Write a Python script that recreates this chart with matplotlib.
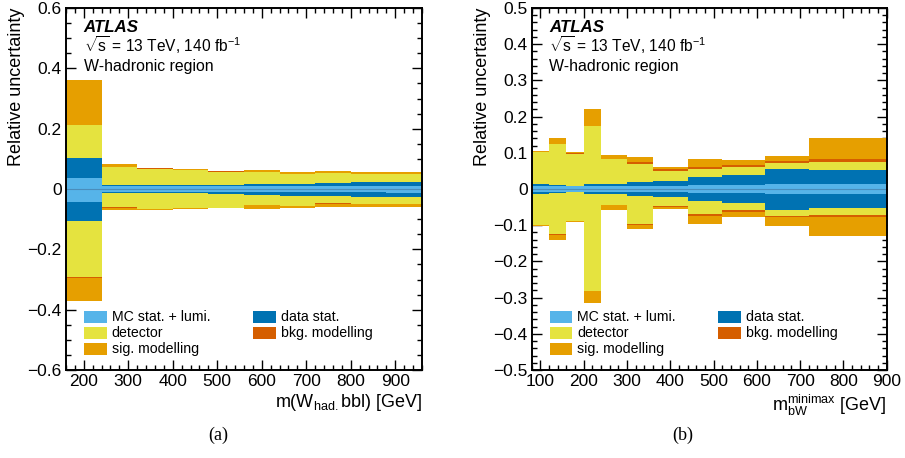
import numpy as np
import matplotlib
matplotlib.use("Agg")
import matplotlib.pyplot as plt
from matplotlib.patches import Rectangle
from matplotlib.ticker import MultipleLocator

plt.rcParams['font.family'] = ['Liberation Sans', 'DejaVu Sans']
plt.rcParams['mathtext.fontset'] = 'custom'
plt.rcParams['mathtext.rm'] = 'Liberation Sans'
plt.rcParams['mathtext.it'] = 'Liberation Sans:italic'
plt.rcParams['axes.unicode_minus'] = True

# colours
c_mc = '#56b4e9'
c_data = '#0072b2'
c_det = '#e5e33f'
c_bkg = '#d55e00'
c_sig = '#e69f00'

# (a) m(W_had. bbl)
edges_a = [160, 240, 320, 400, 480, 560, 640, 720, 800, 880, 960]
mc_up_a = [0.038, 0.010, 0.009, 0.009, 0.009, 0.009, 0.010, 0.010, 0.011, 0.011]
mc_dn_a = [-0.042, -0.011, -0.010, -0.010, -0.010, -0.010, -0.010, -0.011, -0.011, -0.012]
data_up_a = [0.104, 0.012, 0.012, 0.013, 0.014, 0.016, 0.018, 0.021, 0.022, 0.023]
data_dn_a = [-0.107, -0.013, -0.013, -0.014, -0.016, -0.019, -0.022, -0.024, -0.027, -0.026]
det_up_a = [0.211, 0.074, 0.068, 0.064, 0.058, 0.056, 0.050, 0.054, 0.050, 0.050]
det_dn_a = [-0.293, -0.061, -0.066, -0.063, -0.062, -0.053, -0.057, -0.048, -0.050, -0.050]
bkg_up_a = [0.2115, 0.0745, 0.0685, 0.0645, 0.0585, 0.0565, 0.0505, 0.0545, 0.0505, 0.0505]
bkg_dn_a = [-0.2935, -0.0615, -0.0665, -0.0635, -0.0625, -0.0535, -0.0575, -0.0485, -0.0505, -0.0505]
sig_up_a = [0.360, 0.082, 0.070, 0.067, 0.060, 0.063, 0.056, 0.061, 0.057, 0.056]
sig_dn_a = [-0.370, -0.070, -0.069, -0.065, -0.064, -0.067, -0.063, -0.059, -0.059, -0.059]

# (b) m_bW^minimax
edges_b = [80, 120, 160, 200, 240, 300, 360, 440, 520, 620, 720, 900]
mc_up_b = [0.009, 0.009, 0.008, 0.008, 0.009, 0.009, 0.009, 0.010, 0.012, 0.015, 0.015]
mc_dn_b = [-0.009, -0.009, -0.008, -0.008, -0.009, -0.009, -0.009, -0.010, -0.012, -0.015, -0.015]
data_up_b = [0.013, 0.011, 0.009, 0.013, 0.014, 0.020, 0.023, 0.032, 0.039, 0.056, 0.053]
data_dn_b = [-0.013, -0.011, -0.009, -0.013, -0.014, -0.020, -0.023, -0.032, -0.039, -0.057, -0.053]
det_up_b = [0.101, 0.123, 0.098, 0.173, 0.083, 0.070, 0.049, 0.055, 0.061, 0.072, 0.076]
det_dn_b = [-0.099, -0.125, -0.088, -0.281, -0.044, -0.096, -0.046, -0.069, -0.057, -0.074, -0.071]
bkg_up_b = [0.102, 0.124, 0.099, 0.174, 0.084, 0.075, 0.055, 0.062, 0.066, 0.077, 0.082]
bkg_dn_b = [-0.100, -0.126, -0.089, -0.282, -0.045, -0.100, -0.051, -0.074, -0.063, -0.078, -0.076]
sig_up_b = [0.106, 0.142, 0.101, 0.222, 0.094, 0.089, 0.061, 0.083, 0.080, 0.092, 0.141]
sig_dn_b = [-0.103, -0.140, -0.092, -0.314, -0.059, -0.110, -0.055, -0.098, -0.078, -0.101, -0.131]

legend_labels = ['MC stat. + lumi.', 'data stat.', 'detector', 'bkg. modelling', 'sig. modelling']


def band(ax, edges, lo, hi, color):
    # step band over the bins, last value repeated for the right edge
    ax.fill_between(edges, list(lo) + [lo[-1]], list(hi) + [hi[-1]],
                    step='post', color=color, lw=0, zorder=2)


def style(ax, xlim, ylim, ymaj, ymin):
    ax.set_xlim(*xlim)
    ax.set_ylim(*ylim)
    ax.xaxis.set_major_locator(MultipleLocator(100))
    ax.xaxis.set_minor_locator(MultipleLocator(20))
    ax.yaxis.set_major_locator(MultipleLocator(ymaj))
    ax.yaxis.set_minor_locator(MultipleLocator(ymin))
    ax.tick_params(which='both', direction='in', top=True, right=True,
                   labelsize=12.5, width=1.0, pad=3)
    ax.tick_params(which='major', length=7.5)
    ax.tick_params(which='minor', length=3.8)
    for s in ax.spines.values():
        s.set_linewidth(1.4)
        s.set_zorder(5)
    ax.set_ylabel('Relative uncertainty', fontsize=13, loc='top')
    ax.yaxis.set_label_coords(-0.116, 1.0)


def legend(ax):
    cols = [c_mc, c_data, c_det, c_bkg, c_sig]
    pos = [(0, 0), (1, 0), (0, 1), (1, 1), (0, 2)]
    for lab, c, (ci, ri) in zip(legend_labels, cols, pos):
        xp = 0.0506 if ci == 0 else 0.526
        yc = 0.1472 - ri * 0.0442
        ax.add_patch(Rectangle((xp, yc - 0.0166), 0.0637, 0.0332, transform=ax.transAxes,
                               color=c, lw=0, zorder=6))
        ax.text(xp + 0.078, yc, lab, transform=ax.transAxes, fontsize=10.2,
                va='center', ha='left', zorder=6)


def labels(ax):
    ax.text(0.05, 0.9345, 'ATLAS', transform=ax.transAxes, fontsize=12.2,
            fontweight='bold', style='italic', va='baseline')
    ax.text(0.05, 0.879, r'$\sqrt{\mathrm{s}}$ = 13 TeV, 140 fb$^{\mathrm{-1}}$',
            transform=ax.transAxes, fontsize=11.2, va='baseline')
    ax.text(0.05, 0.826, 'W-hadronic region', transform=ax.transAxes,
            fontsize=11.4, va='baseline')


fig = plt.figure(figsize=(9.05, 4.58), dpi=100)
ax1 = fig.add_axes([0.0729, 0.1921, 0.3934, 0.7904])
ax2 = fig.add_axes([0.5875, 0.1921, 0.3923, 0.7904])

for ax, e, mu, md, du, dd, tu, td, bu, bd, su, sd in [
        (ax1, edges_a, mc_up_a, mc_dn_a, data_up_a, data_dn_a, det_up_a, det_dn_a,
         bkg_up_a, bkg_dn_a, sig_up_a, sig_dn_a),
        (ax2, edges_b, mc_up_b, mc_dn_b, data_up_b, data_dn_b, det_up_b, det_dn_b,
         bkg_up_b, bkg_dn_b, sig_up_b, sig_dn_b)]:
    band(ax, e, sd, su, c_sig)
    band(ax, e, bd, bu, c_bkg)
    band(ax, e, td, tu, c_det)
    band(ax, e, dd, du, c_data)
    band(ax, e, md, mu, c_mc)
    ax.plot([e[0], e[-1]], [0, 0], color='#4a8dbb', lw=0.8, zorder=3)
    legend(ax)
    labels(ax)

style(ax1, (160, 960), (-0.6, 0.6), 0.2, 0.05)
style(ax2, (80, 900), (-0.5, 0.5), 0.1, 0.02)

ax1.set_yticks([-0.6, -0.4, -0.2, 0, 0.2, 0.4, 0.6])
ax1.set_yticklabels(['\u22120.6', '\u22120.4', '\u22120.2', '0', '0.2', '0.4', '0.6'])
ax2.set_yticks([-0.5, -0.4, -0.3, -0.2, -0.1, 0, 0.1, 0.2, 0.3, 0.4, 0.5])
ax2.set_yticklabels(['\u22120.5', '\u22120.4', '\u22120.3', '\u22120.2', '\u22120.1', '0',
                     '0.1', '0.2', '0.3', '0.4', '0.5'])

ax1.set_xlabel(r'm(W$_{\mathrm{had.}}$bbl) [GeV]', fontsize=13, loc='right')
ax1.xaxis.set_label_coords(1.0, -0.062)
ax2.set_xlabel(r'm$_{\mathrm{bW}}^{\mathrm{minimax}}$ [GeV]', fontsize=13, loc='right')
ax2.xaxis.set_label_coords(1.0, -0.062)

fig.text(218 / 905, 1 - 440 / 458, '(a)', fontsize=13, family='Liberation Serif', ha='center')
fig.text(683 / 905, 1 - 440 / 458, '(b)', fontsize=13, family='Liberation Serif', ha='center')

fig.savefig('out.png', dpi=100)
